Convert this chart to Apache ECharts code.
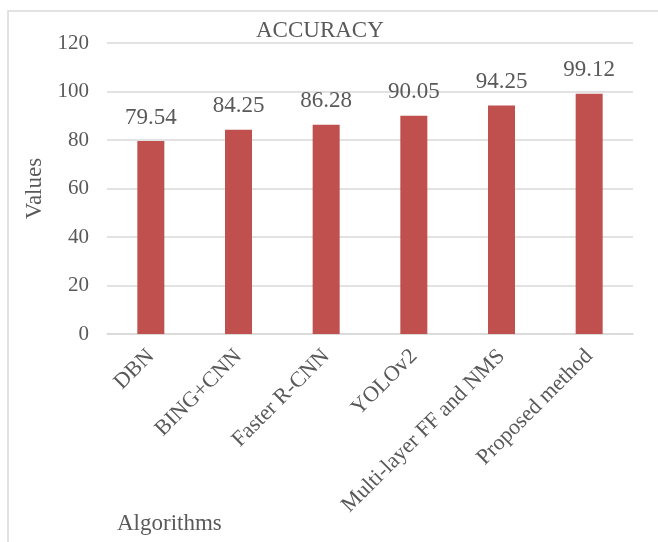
<!DOCTYPE html>
<html>
<head>
<meta charset="utf-8">
<script src="https://cdn.jsdelivr.net/npm/echarts@6/dist/echarts.min.js"></script>
<style>
  html, body { margin: 0; padding: 0; background: #fff; }
  #chart { width: 658px; height: 542px; }
</style>
</head>
<body>
<div id="chart"></div>
<script>
var categories = ['DBN', 'BING+CNN', 'Faster R-CNN', 'YOLOv2', 'Multi-layer FF and NMS', 'Proposed method'];
var accuracy = [79.54, 84.25, 86.28, 90.05, 94.25, 99.12];
var yTicks = [0, 20, 40, 60, 80, 100, 120];

var font = "'Times New Roman', 'Liberation Serif', serif";
var textColor = '#595959';
var gridColor = '#d9d9d9';

var chart = echarts.init(document.getElementById('chart'));

var option = {
  animation: false,
  backgroundColor: '#fff',
  title: {
    text: 'ACCURACY',
    left: 251,
    top: 14,
    textStyle: { fontFamily: font, fontSize: 23, fontWeight: 'normal', color: textColor }
  },
  graphic: [{
    type: 'rect',
    shape: { x: 8, y: 11, width: 700, height: 600 },
    style: { fill: 'none', stroke: gridColor, lineWidth: 1.5 },
    silent: true
  }, {
    type: 'text',
    left: 117,
    top: 512,
    style: { text: 'Algorithms', font: '23px ' + font, fill: textColor }
  }],
  grid: { left: 107, right: 25, top: 43, bottom: 208 },
  xAxis: {
    type: 'category',
    data: categories,
    axisLine: { lineStyle: { color: gridColor, width: 1.5 } },
    axisTick: { show: false },
    axisLabel: {
      rotate: 45,
      interval: 0,
      margin: 19,
      fontFamily: font,
      fontSize: 22,
      color: textColor
    }
  },
  yAxis: {
    type: 'value',
    min: yTicks[0],
    max: yTicks[yTicks.length - 1],
    interval: 20,
    name: 'Values',
    nameLocation: 'middle',
    nameGap: 60,
    nameTextStyle: { fontFamily: font, fontSize: 23, color: textColor },
    axisLine: { show: false },
    axisTick: { show: false },
    splitLine: { lineStyle: { color: gridColor, width: 1.5 } },
    axisLabel: { fontFamily: font, fontSize: 21, color: textColor, margin: 18 }
  },
  series: [{
    type: 'bar',
    data: accuracy,
    barWidth: 27,
    itemStyle: { color: '#C0504D' },
    label: {
      show: true,
      position: 'top',
      distance: 12,
      fontFamily: font,
      fontSize: 23,
      color: textColor
    }
  }]
};

chart.setOption(option);
</script>
</body>
</html>
